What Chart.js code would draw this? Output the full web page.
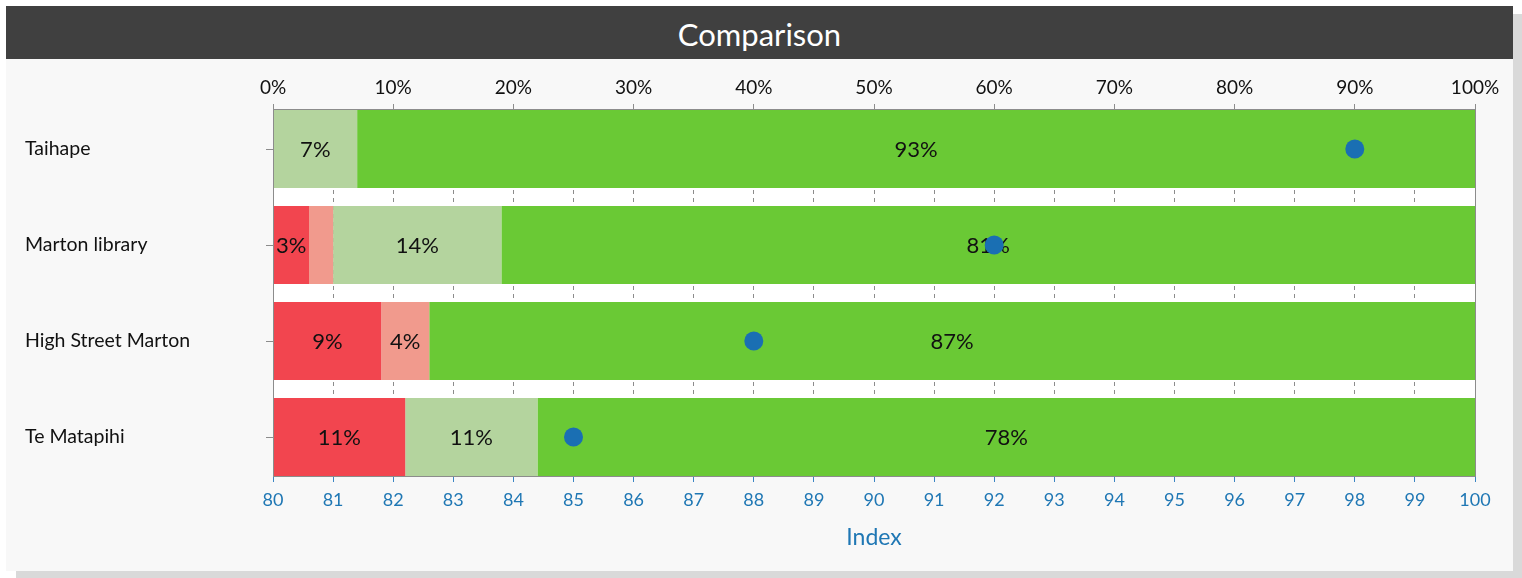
<!DOCTYPE html>
<html>
<head>
<meta charset="utf-8">
<script src="https://cdn.jsdelivr.net/npm/chart.js@4.4.1/dist/chart.umd.min.js"></script>
<style>
  html, body { margin: 0; padding: 0; background: #ffffff; width: 1522px; height: 578px; overflow: hidden; }
  #card { position: absolute; left: 6px; top: 6px; width: 1507px; height: 565px; background: #f8f8f8; box-shadow: 10px 8px 0 #d9d9d9; }
  #title { height: 53px; background: #404040; color: #ffffff; font-family: Lato, sans-serif; font-size: 31px; line-height: 57px; text-align: center; }
  #wrap { position: relative; width: 1507px; height: 512px; }
</style>
</head>
<body>
<div id="card">
  <div id="title">Comparison</div>
  <div id="wrap"><canvas id="c" width="1507" height="512"></canvas></div>
</div>
<script>
const categories = ["Taihape", "Marton library", "High Street Marton", "Te Matapihi"];
const seriesNames = ["Very poor", "Poor", "Good", "Very good"];
const veryPoor = [0, 3, 9, 11];
const poor = [0, 2, 4, 0];
const good = [7, 14, 0, 11];
const veryGood = [93, 81, 87, 78];
const indexValues = [98, 92, 88, 85];
const pctTicks = [0, 10, 20, 30, 40, 50, 60, 70, 80, 90, 100];
const indexMin = 80, indexMax = 100;

const colors = ["#f2454f", "#f19a8d", "#b4d49e", "#6ac935"];
const blue = "#1f77b4";
const FONT = "Lato, sans-serif";

const seriesValues = [veryPoor, poor, good, veryGood];
const barDatasets = seriesValues.map((arr, si) => ({
  type: 'bar',
  label: seriesNames[si],
  data: arr.map((v, i) => ({ x: v, y: i })),
  backgroundColor: colors[si],
  borderWidth: 0,
  xAxisID: 'x',
  yAxisID: 'y',
  barPercentage: 78 / 96,
  categoryPercentage: 1,
  order: 1
}));

const dotDataset = {
  type: 'line',
  label: 'Index',
  data: indexValues.map((v, i) => ({ x: v, y: i })),
  xAxisID: 'x2',
  yAxisID: 'y',
  showLine: false,
  pointRadius: 9.5,
  pointHoverRadius: 9.5,
  pointBackgroundColor: "#1a6fb3",
  pointBorderWidth: 0,
  order: 0
};

const plotBg = {
  id: 'plotBg',
  beforeDraw(chart) {
    const { ctx, chartArea: a } = chart;
    ctx.save();
    ctx.fillStyle = '#ffffff';
    ctx.fillRect(a.left, a.top, a.right - a.left, a.bottom - a.top);
    ctx.restore();
  },
  afterDraw(chart) {
    const { ctx, chartArea: a } = chart;
    ctx.save();
    ctx.strokeStyle = '#8c8c8c';
    ctx.lineWidth = 1;
    const l = Math.floor(a.left) + 0.5, r = Math.floor(a.right) + 0.5;
    ctx.strokeRect(l, Math.round(a.top) - 0.5, r - l, Math.round(a.bottom - a.top) + 1);
    ctx.restore();
  }
};

const barLabels = {
  id: 'barLabels',
  afterDatasetDraw(chart, args) {
    const ds = chart.data.datasets[args.index];
    if (ds.type !== 'bar') return;
    const { ctx } = chart;
    const meta = args.meta;
    ctx.save();
    ctx.font = `22px ${FONT}`;
    ctx.fillStyle = '#111111';
    ctx.textAlign = 'center';
    ctx.textBaseline = 'middle';
    meta.data.forEach((el, i) => {
      const v = ds.data[i].x;
      if (!v) return;
      const txt = v + '%';
      const w = Math.abs(el.x - el.base);
      if (ctx.measureText(txt).width > w + 2) return;
      ctx.fillText(txt, (el.x + el.base) / 2, el.y + 1);
    });
    ctx.restore();
  }
};

new Chart(document.getElementById('c'), {
  data: { datasets: [dotDataset, ...barDatasets] },
  options: {
    indexAxis: 'y',
    responsive: false,
    animation: false,
    events: [],
    layout: { padding: { left: 19, right: 38, top: 0, bottom: 20 } },
    plugins: { legend: { display: false }, tooltip: { enabled: false }, title: { display: false } },
    scales: {
      x: {
        type: 'linear', position: 'top', min: 0, max: 100, stacked: true,
        afterBuildTicks: s => { s.ticks = pctTicks.map(v => ({ value: v })); },
        ticks: { callback: v => v + '%', color: '#111111', font: { family: FONT, size: 19 }, padding: 5, maxRotation: 0 },
        grid: { drawOnChartArea: false, tickLength: 6, tickColor: '#8c8c8c' },
        border: { display: false },
        afterFit: s => { s.height = 51; }
      },
      x2: {
        type: 'linear', position: 'bottom', min: indexMin, max: indexMax,
        ticks: { stepSize: 1, color: blue, font: { family: FONT, size: 18 }, padding: 7, maxRotation: 0, autoSkip: false },
        grid: { color: '#8c8c8c', tickColor: '#3c86c4', tickLength: 6, lineWidth: 1 },
        border: { display: false, dash: [4, 4] },
        title: { display: true, text: 'Index', color: blue, font: { family: FONT, size: 23 }, padding: { top: 2, bottom: 0 } },
        afterFit: s => { s.height = 75; }
      },
      y: {
        type: 'linear', position: 'left', reverse: true, stacked: true, offset: false,
        min: -39 / 96, max: 3 + 39 / 96,
        afterBuildTicks: s => { s.ticks = categories.map((c, i) => ({ value: i })); },
        ticks: { callback: v => categories[v], color: '#111111', font: { family: FONT, size: 19.5 }, crossAlign: 'far', autoSkip: false },
        grid: { drawOnChartArea: false, offset: false, tickLength: 7, tickColor: '#8c8c8c' },
        border: { display: false },
        afterFit: s => { s.width = 248; }
      }
    }
  },
  plugins: [plotBg, barLabels]
});
</script>
</body>
</html>
